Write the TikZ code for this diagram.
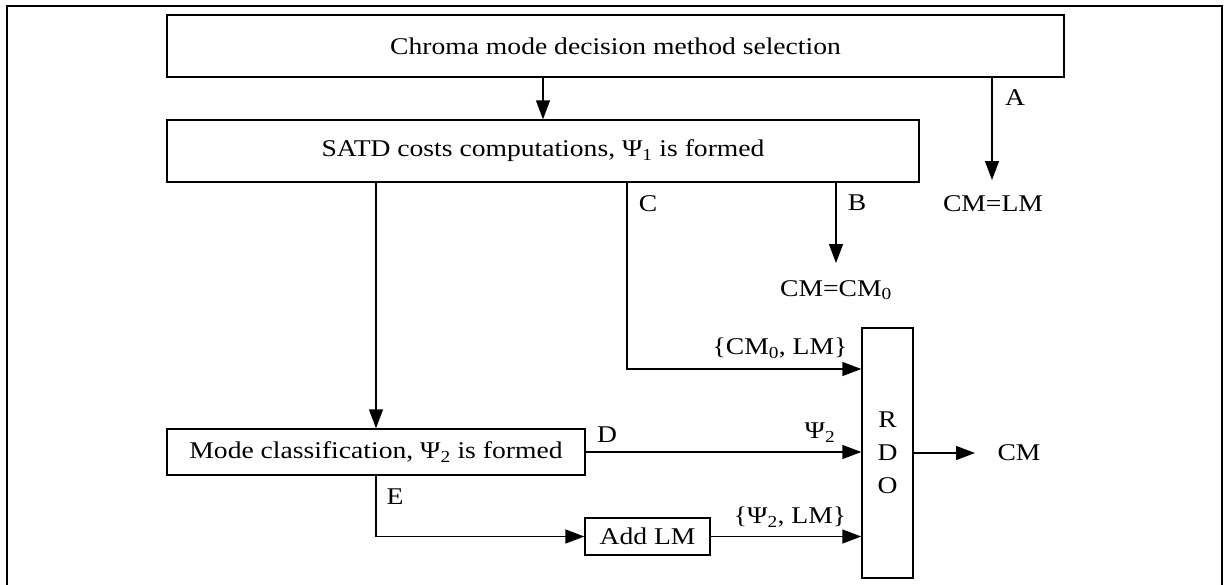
\documentclass[tikz,border=0pt]{standalone}
\usepackage{fontspec}
\setmainfont[FakeStretch=1.15]{Liberation Serif}
\usepackage{tikz}
\usetikzlibrary{arrows.meta}
\def\labelsize{\fontsize{24}{28}\selectfont}

\begin{document}
\begin{tikzpicture}[x=1pt,y=-1pt,line width=1.4pt,
    box/.style={draw,rectangle,inner sep=0pt,font=\labelsize},
    lbl/.style={inner sep=0pt,font=\labelsize},
    arr/.style={-{Triangle[length=19pt,width=14pt]}}]
    \useasboundingbox (0,0) rectangle (1226,584);
    \draw (7,590) -- (7,6) -- (1222,6) -- (1222,590);
    % boxes
    \node[box,minimum width=897pt,minimum height=62pt] (chroma) at (615.5,46) {Chroma mode decision method selection};
    \node[box,minimum width=752pt,minimum height=62pt] (satd) at (543,151) {SATD costs computations, Ψ\textsubscript{1} is formed};
    \node[box,minimum width=418pt,minimum height=46pt] (mode) at (376,452) {Mode classification, Ψ\textsubscript{2} is formed};
    \node[box,minimum width=125pt,minimum height=37pt] (addlm) at (647.5,536.5) {Add LM};
    \node[box,minimum width=51pt,minimum height=250pt,align=center] (rdo) at (887.5,453) {R\\[5pt]D\\[5pt]O};
    % free ends
    \coordinate (aend) at (992,180);
    \coordinate (bend) at (836,263);
    \coordinate (cturn) at (627,369);
    \coordinate (outend) at (975,453);
    % labels
    \node[lbl] (la) at (1015,98) {A};
    \node[lbl] (lb) at (857,203) {B};
    \node[lbl] (lc) at (648,204) {C};
    \node[lbl] (ld) at (607,435) {D};
    \node[lbl] (le) at (395,497) {E};
    \node[lbl] (cmlm) at (993,204) {CM=LM};
    \node[lbl] (cmzero) at (836,290) {CM=CM\textsubscript{0}};
    \node[lbl] (setc) at (780,348) {\{CM\textsubscript{0}, LM\}};
    \node[lbl] (psitwo) at (820,433) {Ψ\textsubscript{2}};
    \node[lbl] (setd) at (790,517) {\{Ψ\textsubscript{2}, LM\}};
    \node[lbl] (cmout) at (1019,453) {CM};
    % connectors
    \draw[arr] (satd.north |- chroma.south) -- (satd.north);
    \draw[arr] (chroma.south -| aend) -- (aend);
    \draw[arr] (satd.south -| bend) -- (bend);
    \draw[arr] (satd.south -| cturn) -- (cturn) -- (cturn -| rdo.west);
    \draw[arr] (mode.north |- satd.south) -- (mode.north);
    \draw[arr] (mode.east) -- (mode.east -| rdo.west);
    \draw[arr] (mode.south) -- (mode.south |- addlm.west) -- (addlm.west);
    \draw[arr] (addlm.east) -- (addlm.east -| rdo.west);
    \draw[arr] (rdo.east) -- (outend);
\end{tikzpicture}
\end{document}
